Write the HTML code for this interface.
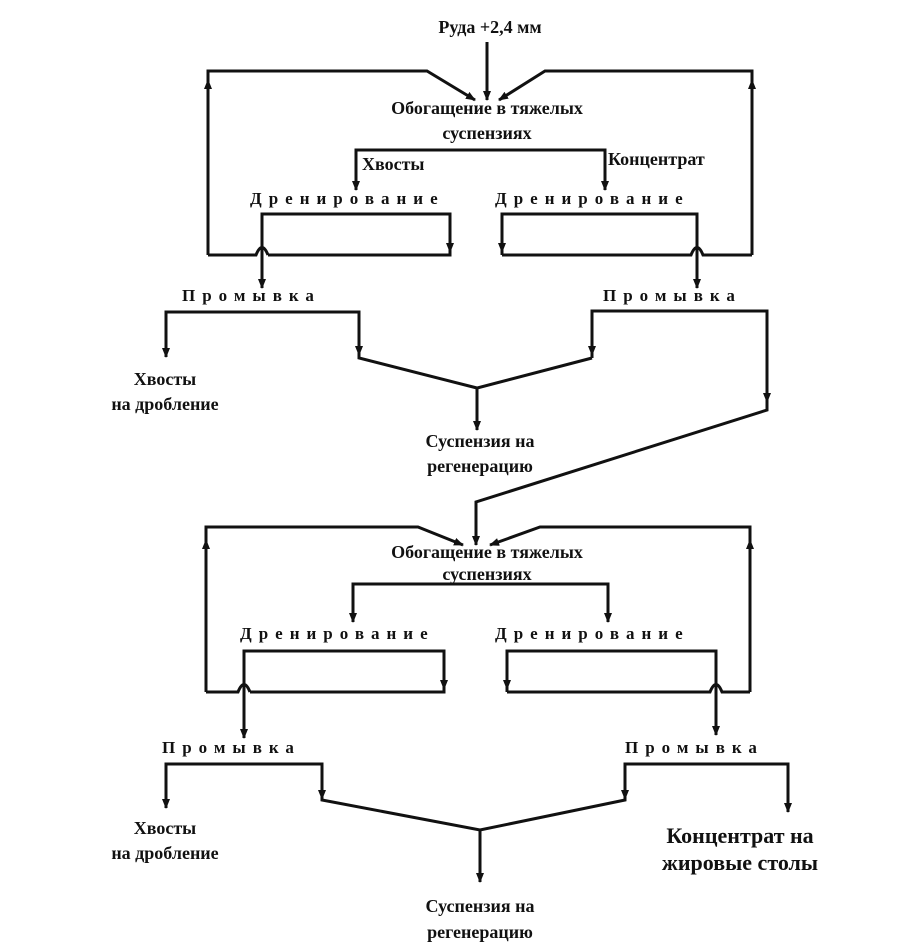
<!DOCTYPE html>
<html><head><meta charset="utf-8"><style>
html,body{margin:0;padding:0;background:#fff;}
svg{display:block;}
text{font-family:"Liberation Serif","DejaVu Serif",serif;fill:#111;font-weight:bold;}
.t{font-size:18px;}
.sp{font-size:17px;letter-spacing:7px;}
.big{font-size:22px;}
</style></head><body>
<svg width="910" height="945" viewBox="0 0 910 945" xmlns="http://www.w3.org/2000/svg">
<defs>
<marker id="a" markerWidth="8" markerHeight="10" refX="4" refY="9" orient="auto-start-reverse" markerUnits="userSpaceOnUse" viewBox="0 0 8 10">
<path d="M0,0 L4,10 L8,0 Z" fill="#111" transform="rotate(0)"/>
</marker>
<marker id="m" markerWidth="10" markerHeight="8" refX="9" refY="4" orient="auto" markerUnits="userSpaceOnUse">
<path d="M0,0 L10,4 L0,8 Z" fill="#111"/>
</marker>
</defs>
<g stroke="#111" stroke-width="3" fill="none" stroke-linejoin="miter">
<!-- TOP SECTION -->
<line x1="487" y1="42" x2="487" y2="100" marker-end="url(#m)"/>
<polyline points="208,255 208,71 427,71 475,100" marker-end="url(#m)"/>
<polyline points="752,255 752,71 545,71 499,100" marker-end="url(#m)"/>
<polyline points="356,190 356,150 605,150 605,190"/>
<line x1="356" y1="175" x2="356" y2="190" marker-end="url(#m)"/>
<line x1="605" y1="175" x2="605" y2="190" marker-end="url(#m)"/>
<!-- left box -->
<polyline points="262,288 262,214 450,214 450,255 268,255"/>
<line x1="450" y1="235" x2="450" y2="252" marker-end="url(#m)"/>
<path d="M268,255 Q262,240 256,255 L208,255"/>
<line x1="262" y1="265" x2="262" y2="288" marker-end="url(#m)"/>
<!-- right box -->
<polyline points="502,255 502,214 697,214 697,288"/>
<line x1="502" y1="235" x2="502" y2="252" marker-end="url(#m)"/>
<path d="M502,255 L691,255 Q697,240 703,255 L752,255"/>
<line x1="697" y1="265" x2="697" y2="288" marker-end="url(#m)"/>
<line x1="752" y1="100" x2="752" y2="80" marker-end="url(#m)"/>
<line x1="208" y1="100" x2="208" y2="80" marker-end="url(#m)"/>
<!-- top washing -->
<polyline points="166,357 166,312 359,312 359,358 477,388"/>
<line x1="166" y1="340" x2="166" y2="357" marker-end="url(#m)"/>
<line x1="359" y1="340" x2="359" y2="355" marker-end="url(#m)"/>
<polyline points="592,358 592,311 767,311 767,410 476,502 476,542"/>
<line x1="592" y1="340" x2="592" y2="355" marker-end="url(#m)"/>
<line x1="767" y1="385" x2="767" y2="402" marker-end="url(#m)"/>
<polyline points="592,358 477,388 477,430"/>
<line x1="477" y1="410" x2="477" y2="430" marker-end="url(#m)"/>
<!-- BOTTOM SECTION -->
<line x1="476" y1="525" x2="476" y2="545" marker-end="url(#m)"/>
<polyline points="206,692 206,527 418,527 463,545" marker-end="url(#m)"/>
<polyline points="750,692 750,527 540,527 490,545" marker-end="url(#m)"/>
<line x1="206" y1="560" x2="206" y2="540" marker-end="url(#m)"/>
<line x1="750" y1="560" x2="750" y2="540" marker-end="url(#m)"/>
<polyline points="353,622 353,584 608,584 608,622"/>
<line x1="353" y1="605" x2="353" y2="622" marker-end="url(#m)"/>
<line x1="608" y1="605" x2="608" y2="622" marker-end="url(#m)"/>
<!-- left box -->
<polyline points="244,738 244,651 444,651 444,692 250,692"/>
<line x1="444" y1="672" x2="444" y2="689" marker-end="url(#m)"/>
<path d="M250,692 Q244,677 238,692 L206,692"/>
<line x1="244" y1="715" x2="244" y2="738" marker-end="url(#m)"/>
<!-- right box -->
<polyline points="507,692 507,651 716,651 716,735"/>
<line x1="507" y1="672" x2="507" y2="689" marker-end="url(#m)"/>
<path d="M507,692 L710,692 Q716,677 722,692 L750,692"/>
<line x1="716" y1="712" x2="716" y2="735" marker-end="url(#m)"/>
<!-- bottom washing -->
<polyline points="166,808 166,764 322,764 322,800 480,830 625,800 625,764 788,764 788,812"/>
<line x1="166" y1="790" x2="166" y2="808" marker-end="url(#m)"/>
<line x1="322" y1="782" x2="322" y2="799" marker-end="url(#m)"/>
<line x1="625" y1="782" x2="625" y2="799" marker-end="url(#m)"/>
<line x1="788" y1="795" x2="788" y2="812" marker-end="url(#m)"/>
<line x1="480" y1="830" x2="480" y2="882" marker-end="url(#m)"/>
</g>
<!-- TEXT -->
<text class="t" x="490" y="33" text-anchor="middle">Руда +2,4 мм</text>
<text class="t" x="487" y="114" text-anchor="middle">Обогащение в тяжелых</text>
<text class="t" x="487" y="139" text-anchor="middle">суспензиях</text>
<text class="t" x="362" y="170">Хвосты</text>
<text class="t" x="608" y="165">Концентрат</text>
<text class="sp" x="250" y="204">Дренирование</text>
<text class="sp" x="495" y="204">Дренирование</text>
<text class="sp" x="182" y="301">Промывка</text>
<text class="sp" x="603" y="301">Промывка</text>
<text class="t" x="165" y="385" text-anchor="middle">Хвосты</text>
<text class="t" x="165" y="410" text-anchor="middle">на дробление</text>
<text class="t" x="480" y="447" text-anchor="middle">Суспензия на</text>
<text class="t" x="480" y="472" text-anchor="middle">регенерацию</text>
<text class="t" x="487" y="558" text-anchor="middle">Обогащение в тяжелых</text>
<text class="t" x="487" y="580" text-anchor="middle">суспензиях</text>
<text class="sp" x="240" y="639">Дренирование</text>
<text class="sp" x="495" y="639">Дренирование</text>
<text class="sp" x="162" y="753">Промывка</text>
<text class="sp" x="625" y="753">Промывка</text>
<text class="t" x="165" y="834" text-anchor="middle">Хвосты</text>
<text class="t" x="165" y="859" text-anchor="middle">на дробление</text>
<text class="big" x="740" y="843" text-anchor="middle">Концентрат на</text>
<text class="big" x="740" y="870" text-anchor="middle">жировые столы</text>
<text class="t" x="480" y="912" text-anchor="middle">Суспензия на</text>
<text class="t" x="480" y="938" text-anchor="middle">регенерацию</text>
</svg>
</body></html>
